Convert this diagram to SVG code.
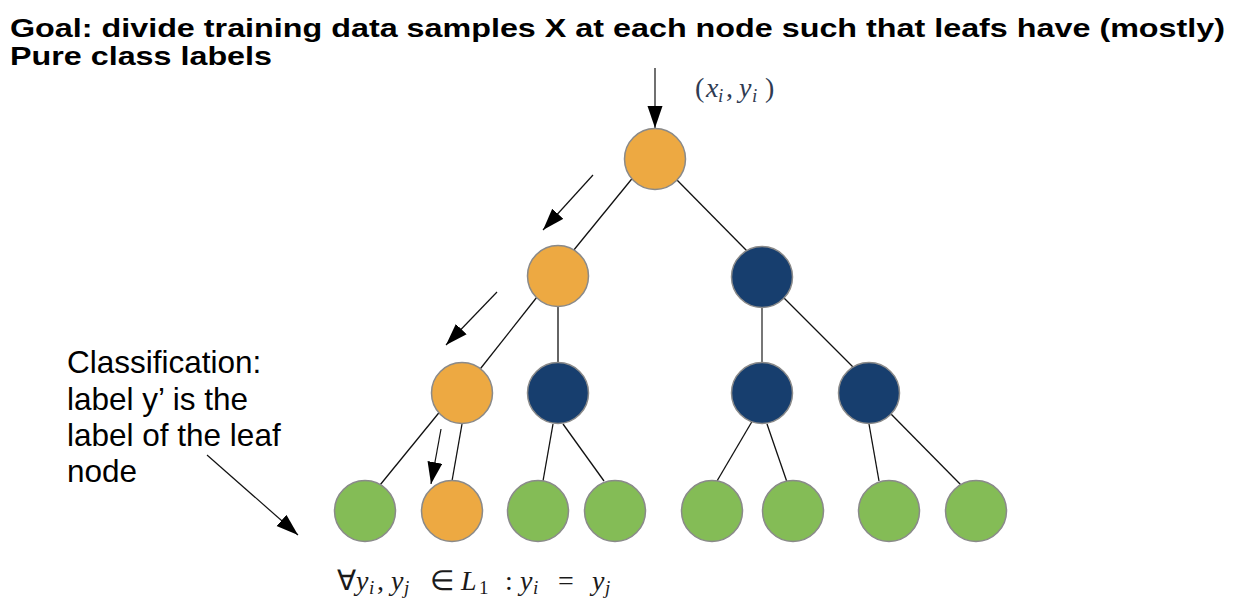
<svg xmlns="http://www.w3.org/2000/svg" width="1240" height="612" viewBox="0 0 1240 612">
<style>
  .title{font-family:"Liberation Sans",Arial,sans-serif;font-weight:bold;font-size:26px;fill:#000}
  .label{font-family:"Liberation Sans",Arial,sans-serif;font-size:31.5px;fill:#000}
  .math{font-family:"Liberation Serif","Times New Roman",serif;font-size:28px;fill:#1a1a1a}
  .it{font-style:italic}
  .sub{font-size:19px}
  .orange{fill:#EDA942;stroke:#8a8a8a;stroke-width:1.5}
  .navy{fill:#173E6E;stroke:#8a8a8a;stroke-width:1.5}
  .green{fill:#84BC56;stroke:#8a8a8a;stroke-width:1.5}
  .edge{stroke:#111;stroke-width:1.3;fill:none}
  .arrow{stroke:#111;stroke-width:1.2;fill:none;marker-end:url(#head)}
</style>
<defs>
  <marker id="head" markerUnits="userSpaceOnUse" markerWidth="24" markerHeight="16" refX="22" refY="7.5" orient="auto">
    <path d="M0,0 L22,7.5 L0,15 z" fill="#000"/>
  </marker>
</defs>
<rect width="1240" height="612" fill="#fff"/>
<g id="title">
  <text class="title" x="10" y="37" textLength="1215" lengthAdjust="spacingAndGlyphs">Goal: divide training data samples X at each node such that leafs have (mostly)</text>
  <text class="title" x="10" y="65" textLength="262" lengthAdjust="spacingAndGlyphs">Pure class labels</text>
</g>
<g id="connectors">
  <line class="edge" x1="635" y1="175" x2="573" y2="251"/>
  <line class="edge" x1="676" y1="179" x2="747" y2="251"/>
  <line class="edge" x1="537" y1="297" x2="477" y2="373"/>
  <line class="edge" x1="558" y1="307" x2="558" y2="363"/>
  <line x1="762" y1="307" x2="762" y2="363" stroke="#777" stroke-width="2"/>
  <line class="edge" x1="783" y1="297" x2="853" y2="367"/>
  <line class="edge" x1="442" y1="409" x2="380" y2="485"/>
  <line class="edge" x1="462" y1="424" x2="452" y2="481"/>
  <line class="edge" x1="553" y1="424" x2="543" y2="481"/>
  <line class="edge" x1="563" y1="424" x2="604" y2="481"/>
  <line class="edge" x1="757" y1="413" x2="717" y2="481"/>
  <line class="edge" x1="767" y1="424" x2="788" y2="485"/>
  <line class="edge" x1="869" y1="424" x2="879" y2="481"/>
  <line class="edge" x1="890" y1="413" x2="961" y2="485"/>
  <line class="arrow" x1="655" y1="68" x2="655" y2="128"/>
  <line class="arrow" x1="593" y1="175" x2="543" y2="230"/>
  <line class="arrow" x1="497" y1="292" x2="446" y2="345"/>
  <line class="arrow" x1="441" y1="429" x2="431" y2="484"/>
  <line class="arrow" x1="207" y1="455" x2="298" y2="535"/>
</g>
<g id="n-root"><circle class="orange" cx="655" cy="159" r="30.5"/></g>
<g id="n-l2a"><circle class="orange" cx="558" cy="276" r="30.5"/></g>
<g id="n-l2b"><circle class="navy" cx="762" cy="277" r="30.5"/></g>
<g id="n-l3a"><circle class="orange" cx="462" cy="393" r="30.5"/></g>
<g id="n-l3b"><circle class="navy" cx="558" cy="393" r="30.5"/></g>
<g id="n-l3c"><circle class="navy" cx="762" cy="393" r="30.5"/></g>
<g id="n-l3d"><circle class="navy" cx="869" cy="393" r="30.5"/></g>
<g id="n-leaf1"><circle class="green" cx="365" cy="511" r="30.5"/></g>
<g id="n-leaf2"><circle class="orange" cx="452" cy="511" r="30.5"/></g>
<g id="n-leaf3"><circle class="green" cx="538" cy="511" r="30.5"/></g>
<g id="n-leaf4"><circle class="green" cx="615" cy="511" r="30.5"/></g>
<g id="n-leaf5"><circle class="green" cx="712" cy="511" r="30.5"/></g>
<g id="n-leaf6"><circle class="green" cx="793" cy="511" r="30.5"/></g>
<g id="n-leaf7"><circle class="green" cx="889" cy="511" r="30.5"/></g>
<g id="n-leaf8"><circle class="green" cx="976" cy="511" r="30.5"/></g>
<g id="input-label">
  <text class="math" y="97" style="fill:#2f3b52"><tspan x="695">(</tspan><tspan class="it" x="706">x</tspan><tspan class="it sub" x="718" dy="5">i</tspan><tspan x="726" dy="-5">,</tspan><tspan class="it" x="739">y</tspan><tspan class="it sub" x="752" dy="5">i</tspan><tspan x="765" dy="-5">)</tspan></text>
</g>
<g id="classification-label">
  <text class="label" x="67" y="373">Classification:</text>
  <text class="label" x="67" y="410">label y’ is the</text>
  <text class="label" x="67" y="446">label of the leaf</text>
  <text class="label" x="67" y="482">node</text>
</g>
<g id="leaf-condition">
  <text class="math" y="590"><tspan x="337">∀</tspan><tspan class="it" x="356">y</tspan><tspan class="it sub" x="369" dy="4">i</tspan><tspan x="377" dy="-4">,</tspan><tspan class="it" x="391">y</tspan><tspan class="it sub" x="404" dy="4">j</tspan><tspan x="430" dy="-4">∈</tspan><tspan class="it" x="461">L</tspan><tspan class="sub" x="479" dy="4">1</tspan><tspan x="505" dy="-4">:</tspan><tspan class="it" x="520">y</tspan><tspan class="it sub" x="533" dy="4">i</tspan><tspan x="558" dy="-4">=</tspan><tspan class="it" x="592">y</tspan><tspan class="it sub" x="605" dy="4">j</tspan></text>
</g>
</svg>
